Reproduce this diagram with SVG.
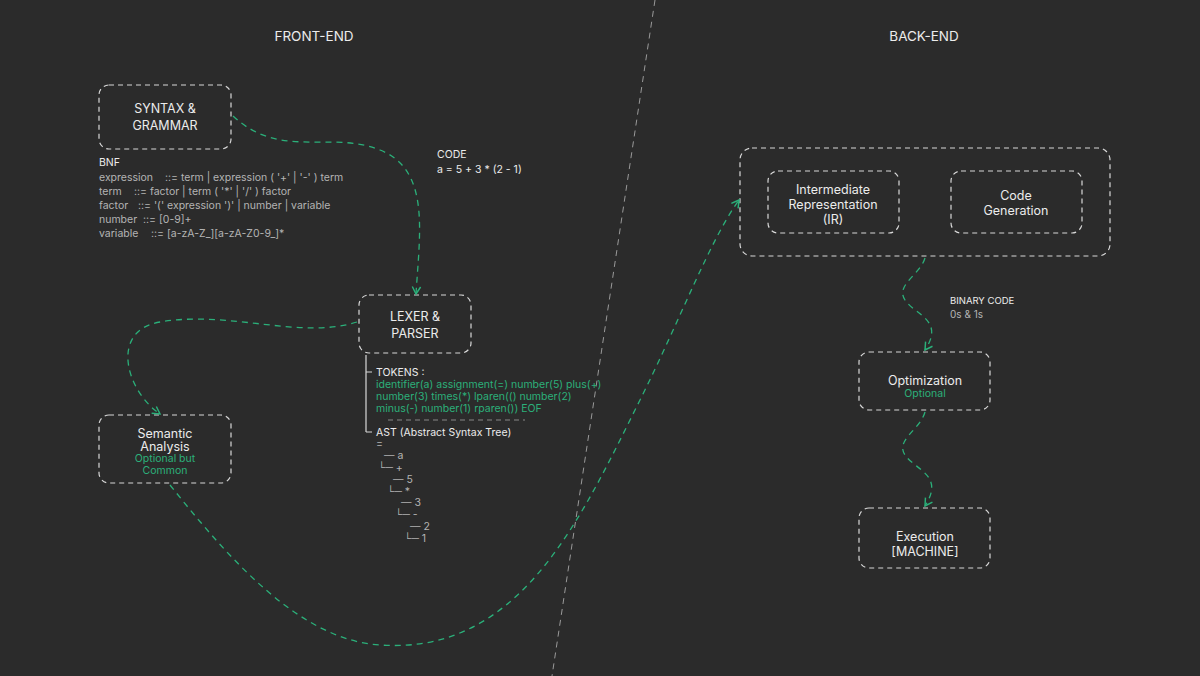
<svg xmlns="http://www.w3.org/2000/svg" width="1200" height="676" viewBox="0 0 1200 676">
<defs>
<style>
.bx{fill:none;stroke:#d8d8d8;stroke-width:1.2;stroke-dasharray:5 4}
.t{font-family:Inter,"Liberation Sans",sans-serif;fill:#ececec;font-size:12.5px}
.m{font-size:10.5px}
.s{font-family:Inter,"Liberation Sans",sans-serif;fill:#b4b4b4;font-size:10.5px}
.g{fill:#2bb07a}
.c{fill:none;stroke:#2bb07a;stroke-width:1.3;stroke-dasharray:6 5}
</style>
<marker id="ah" viewBox="0 0 10 10" refX="8" refY="5" markerWidth="8" markerHeight="8" orient="auto"><path d="M1,1 L8,5 L1,9" fill="none" stroke="#2bb07a" stroke-width="1.4"/></marker>
</defs>
<rect width="1200" height="676" fill="#2b2b2b"/>
<line x1="655" y1="0" x2="552" y2="676" stroke="#9a9a9a" stroke-width="1" stroke-dasharray="6 5"/>
<text class="t" x="314" y="41" text-anchor="middle" style="font-size:13.5px">FRONT-END</text>
<text class="t" x="924" y="41" text-anchor="middle" style="font-size:13.5px">BACK-END</text>

<g id="syntax"><rect class="bx" x="99" y="85" width="132" height="64" rx="10"/>
<text class="t" x="165" y="113" text-anchor="middle">SYNTAX &amp;</text><text class="t" x="165" y="130" text-anchor="middle">GRAMMAR</text></g>
<g id="bnf"><text class="t m" x="99" y="166">BNF</text>
<text class="s" x="99" y="181">expression<tspan x="165">::= term | expression ( '+' | '-' ) term</tspan></text>
<text class="s" x="99" y="195">term<tspan x="134">::= factor | term ( '*' | '/' ) factor</tspan></text>
<text class="s" x="99" y="209">factor<tspan x="138">::= '(' expression ')' | number | variable</tspan></text>
<text class="s" x="99" y="223">number<tspan x="143">::= [0-9]+</tspan></text>
<text class="s" x="99" y="237">variable<tspan x="151">::= [a-zA-Z_][a-zA-Z0-9_]*</tspan></text></g>
<g id="code"><text class="t m" x="437" y="158">CODE</text><text class="t m" x="437" y="173">a = 5 + 3 * (2 - 1)</text></g>

<g id="lexer"><rect class="bx" x="359" y="295" width="112" height="58" rx="10"/>
<text class="t" x="415" y="321" text-anchor="middle">LEXER &amp;</text><text class="t" x="415" y="338" text-anchor="middle">PARSER</text></g>
<g id="tokens">
<path d="M366,355 V432 M366,372 H372 M366,432 H372" stroke="#d8d8d8" stroke-width="1.2" fill="none"/>
<text class="t m" x="376" y="376">TOKENS :</text>
<text class="s g" x="376" y="388">identifier(a) assignment(=) number(5) plus(+)</text>
<text class="s g" x="376" y="400">number(3) times(*) lparen(() number(2)</text>
<text class="s g" x="376" y="412">minus(-) number(1) rparen()) EOF</text>
<line x1="388" y1="420" x2="525" y2="420" stroke="#888" stroke-dasharray="5 4"/>
<text class="t m" x="376" y="436">AST (Abstract Syntax Tree)</text>
<text class="s" x="376" y="447">=</text>
<text class="s" x="384" y="459">— a</text>
<text class="s" x="378" y="471">└─ +</text>
<text class="s" x="393" y="483">— 5</text>
<text class="s" x="387" y="495">└─ *</text>
<text class="s" x="401" y="506">— 3</text>
<text class="s" x="395" y="518">└─ -</text>
<text class="s" x="410" y="530">— 2</text>
<text class="s" x="404" y="542">└─ 1</text></g>

<g id="semantic"><rect class="bx" x="99" y="415" width="132" height="68" rx="10"/>
<text class="t" x="165" y="438" text-anchor="middle">Semantic</text><text class="t" x="165" y="451" text-anchor="middle">Analysis</text>
<text class="s g" x="165" y="462" text-anchor="middle">Optional but</text><text class="s g" x="165" y="474" text-anchor="middle">Common</text></g>

<g id="backend"><rect class="bx" x="740" y="148" width="370" height="108" rx="12"/></g>
<g id="ir"><rect class="bx" x="768" y="171" width="131" height="62" rx="10"/>
<text class="t" x="833" y="194" text-anchor="middle">Intermediate</text><text class="t" x="833" y="209" text-anchor="middle">Representation</text><text class="t" x="833" y="224" text-anchor="middle">(IR)</text></g>
<g id="codegen"><rect class="bx" x="951" y="171" width="131" height="62" rx="10"/>
<text class="t" x="1016" y="200" text-anchor="middle">Code</text><text class="t" x="1016" y="215" text-anchor="middle">Generation</text></g>
<g id="binary"><text class="t" x="950" y="304" style="font-size:9.5px">BINARY CODE</text><text class="s" x="950" y="318" style="font-size:10px">0s &amp; 1s</text></g>
<g id="opt"><rect class="bx" x="859" y="352" width="131" height="58" rx="10"/>
<text class="t" x="925" y="385" text-anchor="middle">Optimization</text><text class="s g" x="925" y="397" text-anchor="middle">Optional</text></g>
<g id="exec"><rect class="bx" x="859" y="508" width="131" height="60" rx="10"/>
<text class="t" x="925" y="541" text-anchor="middle">Execution</text><text class="t" x="925" y="556" text-anchor="middle">[MACHINE]</text></g>

<g id="connectors">
<path class="c" marker-end="url(#ah)" d="M233,116 C280,160 330,130 380,150 C430,170 420,230 416,294"/>
<path class="c" marker-end="url(#ah)" d="M357,322 C300,340 230,310 160,322 C110,330 125,390 160,414"/>
<path class="c" marker-end="url(#ah)" d="M170,485 C230,560 300,640 380,645 C520,655 580,520 640,400 C680,320 710,240 739,200"/>
<path class="c" marker-end="url(#ah)" d="M925,258 C920,275 895,285 905,300 C915,315 945,320 925,350"/>
<path class="c" marker-end="url(#ah)" d="M925,412 C920,430 895,440 905,455 C915,470 945,475 925,506"/>
</g>
</svg>
